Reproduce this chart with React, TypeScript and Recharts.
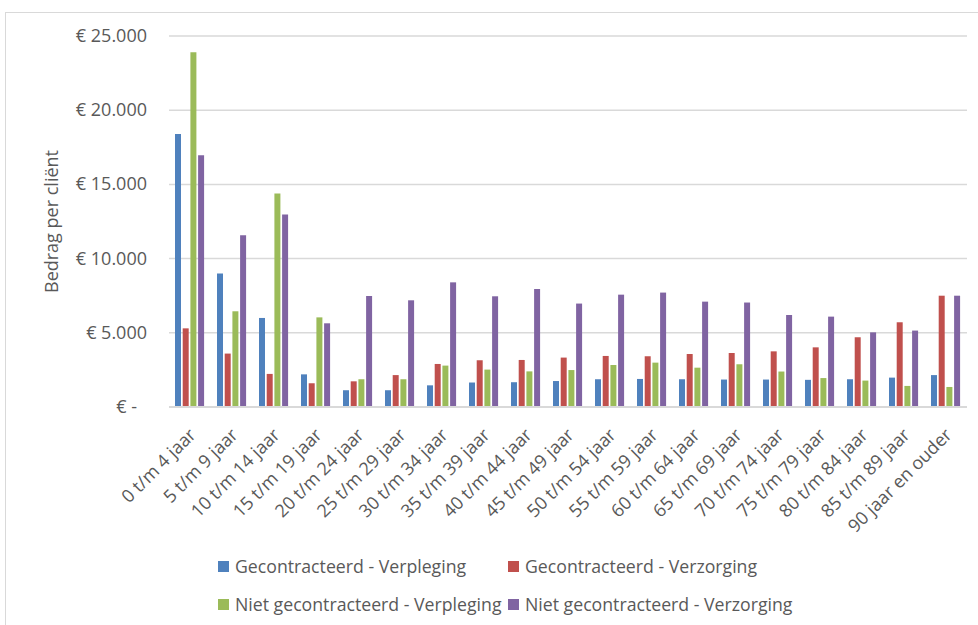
import React from 'react';
import { BarChart, Bar, XAxis, YAxis, CartesianGrid, Legend, Label } from 'recharts';

const categories = [
  '0 t/m 4 jaar', '5 t/m 9 jaar', '10 t/m 14 jaar', '15 t/m 19 jaar', '20 t/m 24 jaar',
  '25 t/m 29 jaar', '30 t/m 34 jaar', '35 t/m 39 jaar', '40 t/m 44 jaar', '45 t/m 49 jaar',
  '50 t/m 54 jaar', '55 t/m 59 jaar', '60 t/m 64 jaar', '65 t/m 69 jaar', '70 t/m 74 jaar',
  '75 t/m 79 jaar', '80 t/m 84 jaar', '85 t/m 89 jaar', '90 jaar en ouder',
];
const gecVerpleging = [18400, 9000, 6000, 2200, 1130, 1130, 1460, 1650, 1670, 1750, 1870, 1890, 1870, 1850, 1850, 1830, 1870, 1980, 2150];
const gecVerzorging = [5300, 3600, 2230, 1600, 1730, 2150, 2900, 3150, 3170, 3330, 3440, 3420, 3570, 3640, 3750, 4020, 4700, 5710, 7500];
const nietVerpleging = [23900, 6450, 14380, 6040, 1870, 1870, 2790, 2520, 2400, 2490, 2830, 2990, 2650, 2880, 2390, 1950, 1780, 1420, 1350];
const nietVerzorging = [16960, 11570, 12970, 5640, 7480, 7190, 8400, 7460, 7950, 6970, 7570, 7710, 7100, 7040, 6200, 6090, 5030, 5150, 7500];
const yTicks = [0, 5000, 10000, 15000, 20000, 25000];

const seriesNames = [
  'Gecontracteerd - Verpleging',
  'Gecontracteerd - Verzorging',
  'Niet gecontracteerd - Verpleging',
  'Niet gecontracteerd - Verzorging',
];
const colors = ['#4F81BD', '#C0504D', '#9BBB59', '#8064A2'];

const data = categories.map((c, i) => ({
  name: c,
  s0: gecVerpleging[i],
  s1: gecVerzorging[i],
  s2: nietVerpleging[i],
  s3: nietVerzorging[i],
}));

const FONT = '"Open Sans", sans-serif';
const TXT = '#595959';

function fmtEuro(v: number): string {
  if (v === 0) return '€ -';
  const s = String(Math.round(v));
  const parts: string[] = [];
  for (let i = s.length; i > 0; i -= 3) parts.unshift(s.slice(Math.max(0, i - 3), i));
  return '€ ' + parts.join('.');
}

const YTick = (props: any) => {
  const { x, y, payload } = props;
  const v = payload.value;
  return (
    <text x={v === 0 ? x - 10 : x} y={y} dy={6} textAnchor="end" fill={TXT} fontSize={18} fontFamily={FONT}>
      {fmtEuro(v)}
    </text>
  );
};

const XTick = (props: any) => {
  const { x, y, payload } = props;
  const ax = x + 7;
  const ay = y + 27;
  return (
    <text x={ax} y={ay} textAnchor="end" fill={TXT} fontSize={18} fontFamily={FONT} transform={`rotate(-45, ${ax}, ${ay})`}>
      {payload.value}
    </text>
  );
};

const LegendContent = () => {
  const item = (i: number, left: number) => (
    <div style={{ position: 'absolute', left, top: 0, height: 38, display: 'flex', alignItems: 'center', whiteSpace: 'nowrap' }}>
      <span style={{ display: 'inline-block', width: 11, height: 11, background: colors[i], marginRight: 6 }} />
      <span style={{ fontFamily: FONT, fontSize: 17.7, color: TXT }}>{seriesNames[i]}</span>
    </div>
  );
  return (
    <div style={{ position: 'relative', width: 973, height: 76 }}>
      <div style={{ position: 'relative', height: 38 }}>
        {item(0, 213)}
        {item(1, 503)}
      </div>
      <div style={{ position: 'relative', height: 38 }}>
        {item(2, 213)}
        {item(3, 503)}
      </div>
    </div>
  );
};

export default function App() {
  return (
    <div style={{ position: 'absolute', left: 0, top: 0, width: 978, height: 625, background: '#fff', overflow: 'hidden' }}>
      <div style={{ position: 'absolute', left: 5, top: 12, width: 1000, height: 700, borderLeft: '1.5px solid #d9d9d9', borderTop: '1.5px solid #d9d9d9' }} />
      <div style={{ position: 'absolute', left: 5, top: 12 }}>
        <BarChart
          width={973}
          height={613}
          data={data}
          margin={{ top: 24, right: 11, left: 0, bottom: 10 }}
          barSize={6}
          barGap={1.7}
        >
          <CartesianGrid vertical={false} stroke="#d9d9d9" strokeWidth={1.5} />
          <XAxis
            dataKey="name"
            interval={0}
            tickLine={false}
            tickSize={0}
            height={132}
            axisLine={{ stroke: '#d9d9d9', strokeWidth: 2 }}
            tick={<XTick />}
          />
          <YAxis
            width={164}
            domain={[0, 25000]}
            ticks={yTicks}
            axisLine={false}
            tickLine={false}
            tickSize={0}
            tickMargin={22}
            tick={<YTick />}
          >
            <Label
              content={(p: any) => {
                const vb = p.viewBox || {};
                const cx = 53;
                const cy = (vb.y ?? 24) + (vb.height ?? 371) / 2;
                return (
                  <text x={cx} y={cy} textAnchor="middle" fill={TXT} fontSize={18} fontFamily={FONT} transform={`rotate(-90, ${cx}, ${cy})`}>
                    Bedrag per cliënt
                  </text>
                );
              }}
            />
          </YAxis>
          <Legend
            verticalAlign="bottom"
            content={<LegendContent />}
            wrapperStyle={{ position: 'absolute', left: 0, top: 535, width: 973, height: 76 }}
          />
          <Bar dataKey="s0" name={seriesNames[0]} fill={colors[0]} isAnimationActive={false} />
          <Bar dataKey="s1" name={seriesNames[1]} fill={colors[1]} isAnimationActive={false} />
          <Bar dataKey="s2" name={seriesNames[2]} fill={colors[2]} isAnimationActive={false} />
          <Bar dataKey="s3" name={seriesNames[3]} fill={colors[3]} isAnimationActive={false} />
        </BarChart>
      </div>
    </div>
  );
}
